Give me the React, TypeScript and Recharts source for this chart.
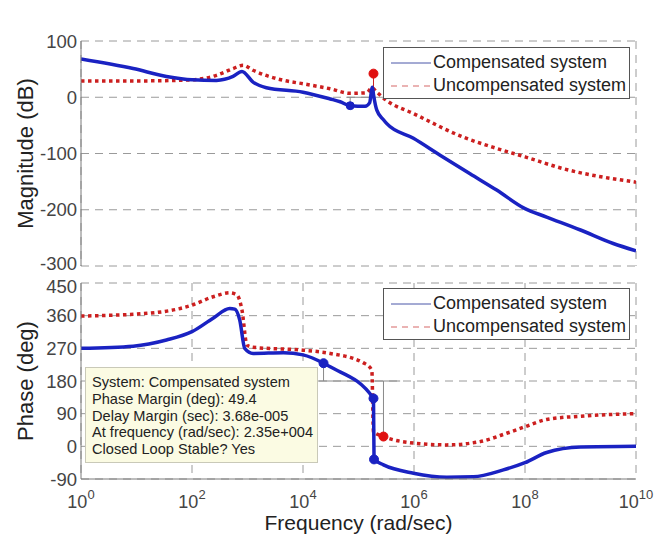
import React from 'react';
import {
  ComposedChart,
  Line,
  XAxis,
  YAxis,
  CartesianGrid,
  ReferenceLine,
  ReferenceDot,
  Legend
} from 'recharts';

// log10 of frequency (rad/sec) for each sample
const decadeTicks = [0, 2, 4, 6, 8, 10];
const magTicks = [-300, -200, -100, 0, 100];
const phaseTicks = [-90, 0, 90, 180, 270, 360, 450];

// Magnitude, compensated
const magCompW = [0, 0.94, 1.54, 2.0, 2.44, 2.74, 2.9, 3.1, 3.34, 4.0, 4.49, 4.67, 4.85, 5.12, 5.2, 5.25, 5.27, 5.33, 5.45, 5.51, 5.99, 6.47, 7.01, 7.49, 8.0, 8.39, 9.0, 9.59, 10];
const magCompDb = [68, 51, 37, 31, 30, 37, 46, 27, 17, 9, -3, -8, -15, -16, -10, 18, 5, -23, -40, -47, -73, -103, -136, -165, -198, -213, -236, -260, -273];

// Magnitude, uncompensated
const magUncW = [0, 1.0, 2.0, 2.44, 2.74, 2.92, 3.1, 3.65, 4.0, 4.49, 4.85, 5.15, 5.24, 5.33, 5.51, 5.99, 6.89, 7.49, 8.0, 8.69, 10];
const magUncDb = [29, 29, 31, 39, 51, 57, 48, 30, 24, 15, 7, 8, 17, 9, -6, -29, -71, -91, -106, -127, -151];

// Phase, compensated
const phCompW = [0, 0.94, 1.54, 2.0, 2.38, 2.68, 2.77, 2.86, 2.95, 3.1, 3.65, 4.0, 4.37, 4.49, 5.27, 5.28, 5.45, 5.99, 6.59, 7.07, 7.61, 8.0, 8.39, 9.0, 10];
const phCompDeg = [270, 276, 293, 316, 353, 380, 378, 348, 270, 256, 258, 252, 229, 219, 132, -36, -51, -74, -85, -84, -65, -45, -17, -2, 0];

// Phase, uncompensated
const phUncW = [0, 1.24, 2.0, 2.38, 2.68, 2.81, 2.9, 2.99, 3.1, 4.0, 4.49, 5.09, 5.24, 5.27, 5.45, 5.99, 6.59, 7.19, 7.67, 8.0, 8.39, 9.0, 10];
const phUncDeg = [359, 367, 389, 412, 423, 417, 376, 279, 273, 265, 256, 230, 210, 40, 27, 9, 4, 13, 36, 54, 74, 83, 90];

// margin markers [log w, value]
const magCompMarks = [[4.85, -15]];
const magUncMarks = [[5.27, 42]];
const phCompMarks = [[4.37, 229], [5.27, 132], [5.28, -36]];
const phUncMarks = [[5.45, 27]];

const annotationLines = [
  'System: Compensated system',
  'Phase Margin (deg): 49.4',
  'Delay Margin (sec): 3.68e-005',
  'At frequency (rad/sec): 2.35e+004',
  'Closed Loop Stable? Yes'
];

const BLUE = '#1a22c2';
const RED = '#cc1f1f';
const GRID = '#9a9a9a';
const BOX = '#7a7a7a';
const MARGIN_LINE = '#8a8a8a';
const FONT = '"Liberation Sans", Arial, Helvetica, sans-serif';

const toPoints = (w: number[], v: number[]) => w.map((x, i) => ({ w: x, v: v[i] }));

const magComp = toPoints(magCompW, magCompDb);
const magUnc = toPoints(magUncW, magUncDb);
const phComp = toPoints(phCompW, phCompDeg);
const phUnc = toPoints(phUncW, phUncDeg);

const DecadeTick = ({ x, y, payload }: any) => (
  <text x={x} y={y} textAnchor="middle" fill="#444" fontFamily={FONT} fontSize={18}>
    <tspan dy={29}>10</tspan>
    <tspan dy={-9} fontSize={13}>{payload.value}</tspan>
  </text>
);

// the two stacked axes meet at -300 / 450, nudge those labels apart a little
const ValueTick = ({ x, y, payload, nudge }: any) => (
  <text
    x={x}
    y={y + (nudge && nudge[payload.value] ? nudge[payload.value] : 0)}
    dy="0.355em"
    textAnchor="end"
    fill="#444"
    fontFamily={FONT}
    fontSize={18.5}
  >
    {payload.value}
  </text>
);

const LegendBox = () => (
  <div
    style={{
      width: 247,
      height: 52,
      boxSizing: 'border-box',
      border: '1px solid #555',
      background: '#fff',
      fontFamily: FONT,
      fontSize: 18,
      color: '#222',
      paddingTop: 3,
      paddingLeft: 6
    }}
  >
    <div style={{ display: 'flex', alignItems: 'center', height: 23 }}>
      <svg width={43} height={10}>
        <line x1={1} x2={41} y1={5} y2={5} stroke="#4a56a8" strokeWidth={1} />
      </svg>
      <span>Compensated system</span>
    </div>
    <div style={{ display: 'flex', alignItems: 'center', height: 23 }}>
      <svg width={43} height={10}>
        <line x1={1} x2={41} y1={5} y2={5} stroke="#e49a9a" strokeWidth={1.3} strokeDasharray="6 5" />
      </svg>
      <span>Uncompensated system</span>
    </div>
  </div>
);

const axisLabel = (value: string) => ({
  value,
  angle: -90,
  position: 'insideLeft' as const,
  offset: 25,
  fill: '#222',
  fontSize: 22,
  fontFamily: FONT,
  style: { textAnchor: 'middle' }
});

export default function App() {
  return (
    <div style={{ position: 'absolute', left: 0, top: 0, width: 672, height: 540, background: '#fff' }}>
      {/* Magnitude */}
      <div style={{ position: 'absolute', left: 0, top: 0 }}>
        <ComposedChart width={672} height={280} margin={{ top: 41, right: 36, bottom: 14, left: 0 }}>
          <CartesianGrid stroke={GRID} strokeDasharray="8 6" />
          <XAxis
            dataKey="w"
            type="number"
            domain={[0, 10]}
            ticks={decadeTicks}
            tick={false}
            tickLine={false}
            height={0}
            axisLine={{ stroke: BOX }}
            allowDataOverflow
          />
          <XAxis
            xAxisId="top"
            orientation="top"
            type="number"
            domain={[0, 10]}
            ticks={decadeTicks}
            tick={false}
            tickLine={false}
            height={0}
            axisLine={{ stroke: BOX }}
            label={{ value: 'Bode Diagram', position: 'top', offset: 14, fill: '#222', fontSize: 22, fontFamily: FONT }}
          />
          <YAxis
            type="number"
            domain={[-300, 100]}
            ticks={magTicks}
            width={81}
            tickLine={false}
            tickSize={0}
            tickMargin={4}
            axisLine={{ stroke: BOX }}
            tick={<ValueTick nudge={{ '-300': -3 }} />}
            label={axisLabel('Magnitude (dB)')}
          />
          <YAxis
            yAxisId="right"
            orientation="right"
            type="number"
            domain={[-300, 100]}
            width={0}
            tick={false}
            tickLine={false}
            axisLine={{ stroke: BOX }}
          />
          <ReferenceLine segment={[{ x: 4.78, y: 0 }, { x: 5.27, y: 0 }]} stroke={MARGIN_LINE} />
          <ReferenceLine segment={[{ x: 4.85, y: 0 }, { x: 4.85, y: -15 }]} stroke={MARGIN_LINE} />
          <ReferenceLine segment={[{ x: 5.27, y: 0 }, { x: 5.27, y: 42 }]} stroke={RED} />
          <Line
            data={magUnc}
            dataKey="v"
            type="monotone"
            stroke={RED}
            strokeWidth={3.5}
            strokeDasharray="3.5 3.5"
            dot={false}
            isAnimationActive={false}
          />
          <Line
            data={magComp}
            dataKey="v"
            type="monotone"
            stroke={BLUE}
            strokeWidth={3.5}
            dot={false}
            isAnimationActive={false}
          />
          {magCompMarks.map(([x, y], i) => (
            <ReferenceDot key={`mb${i}`} x={x} y={y} r={4} fill={BLUE} stroke={BLUE} />
          ))}
          {magUncMarks.map(([x, y], i) => (
            <ReferenceDot key={`mr${i}`} x={x} y={y} r={4.5} fill="#e01010" stroke="#e01010" />
          ))}
          <Legend
            layout="vertical"
            align="center"
            verticalAlign="middle"
            wrapperStyle={{ left: 383, top: 47, width: 247, height: 52 }}
            content={() => <LegendBox />}
          />
        </ComposedChart>
      </div>

      {/* Phase */}
      <div style={{ position: 'absolute', left: 0, top: 270 }}>
        <ComposedChart width={672} height={270} margin={{ top: 13, right: 36, bottom: 0, left: 0 }}>
          <CartesianGrid stroke={GRID} strokeDasharray="8 6" />
          <XAxis
            dataKey="w"
            type="number"
            domain={[0, 10]}
            ticks={decadeTicks}
            tick={<DecadeTick />}
            tickLine={false}
            tickSize={0}
            tickMargin={0}
            height={61}
            axisLine={{ stroke: BOX }}
            allowDataOverflow
            label={{ value: 'Frequency (rad/sec)', position: 'insideBottom', offset: 10, fill: '#222', fontSize: 21, fontFamily: FONT }}
          />
          <XAxis
            xAxisId="top"
            orientation="top"
            type="number"
            domain={[0, 10]}
            ticks={decadeTicks}
            tick={false}
            tickLine={false}
            height={0}
            axisLine={{ stroke: BOX }}
          />
          <YAxis
            type="number"
            domain={[-90, 450]}
            ticks={phaseTicks}
            width={81}
            tickLine={false}
            tickSize={0}
            tickMargin={4}
            axisLine={{ stroke: BOX }}
            tick={<ValueTick nudge={{ '450': 3 }} />}
            label={axisLabel('Phase (deg)')}
          />
          <YAxis
            yAxisId="right"
            orientation="right"
            type="number"
            domain={[-90, 450]}
            width={0}
            tick={false}
            tickLine={false}
            axisLine={{ stroke: BOX }}
          />
          <ReferenceLine segment={[{ x: 4.18, y: 180 }, { x: 5.75, y: 180 }]} stroke={MARGIN_LINE} />
          <ReferenceLine segment={[{ x: 4.37, y: 180 }, { x: 4.37, y: 229 }]} stroke={MARGIN_LINE} />
          <ReferenceLine segment={[{ x: 5.45, y: 180 }, { x: 5.45, y: 27 }]} stroke={MARGIN_LINE} />
          <Line
            data={phUnc}
            dataKey="v"
            type="monotone"
            stroke={RED}
            strokeWidth={3.5}
            strokeDasharray="3.5 3.5"
            dot={false}
            isAnimationActive={false}
          />
          <Line
            data={phComp}
            dataKey="v"
            type="monotone"
            stroke={BLUE}
            strokeWidth={3.5}
            dot={false}
            isAnimationActive={false}
          />
          {phCompMarks.map(([x, y], i) => (
            <ReferenceDot key={`pb${i}`} x={x} y={y} r={4.5} fill={BLUE} stroke={BLUE} />
          ))}
          {phUncMarks.map(([x, y], i) => (
            <ReferenceDot key={`pr${i}`} x={x} y={y} r={4.5} fill="#e01010" stroke="#e01010" />
          ))}
          <Legend
            layout="vertical"
            align="center"
            verticalAlign="middle"
            wrapperStyle={{ left: 383, top: 18, width: 247, height: 52 }}
            content={() => <LegendBox />}
          />
        </ComposedChart>
        <div
          style={{
            position: 'absolute',
            left: 85,
            top: 97,
            width: 233,
            height: 96,
            boxSizing: 'border-box',
            background: '#fbfbe3',
            border: '1px solid #c9c9b8',
            fontFamily: FONT,
            fontSize: 14.6,
            lineHeight: '16.8px',
            color: '#222',
            padding: '6px 0 0 6px'
          }}
        >
          {annotationLines.map(t => (
            <div key={t}>{t}</div>
          ))}
        </div>
      </div>
    </div>
  );
}
